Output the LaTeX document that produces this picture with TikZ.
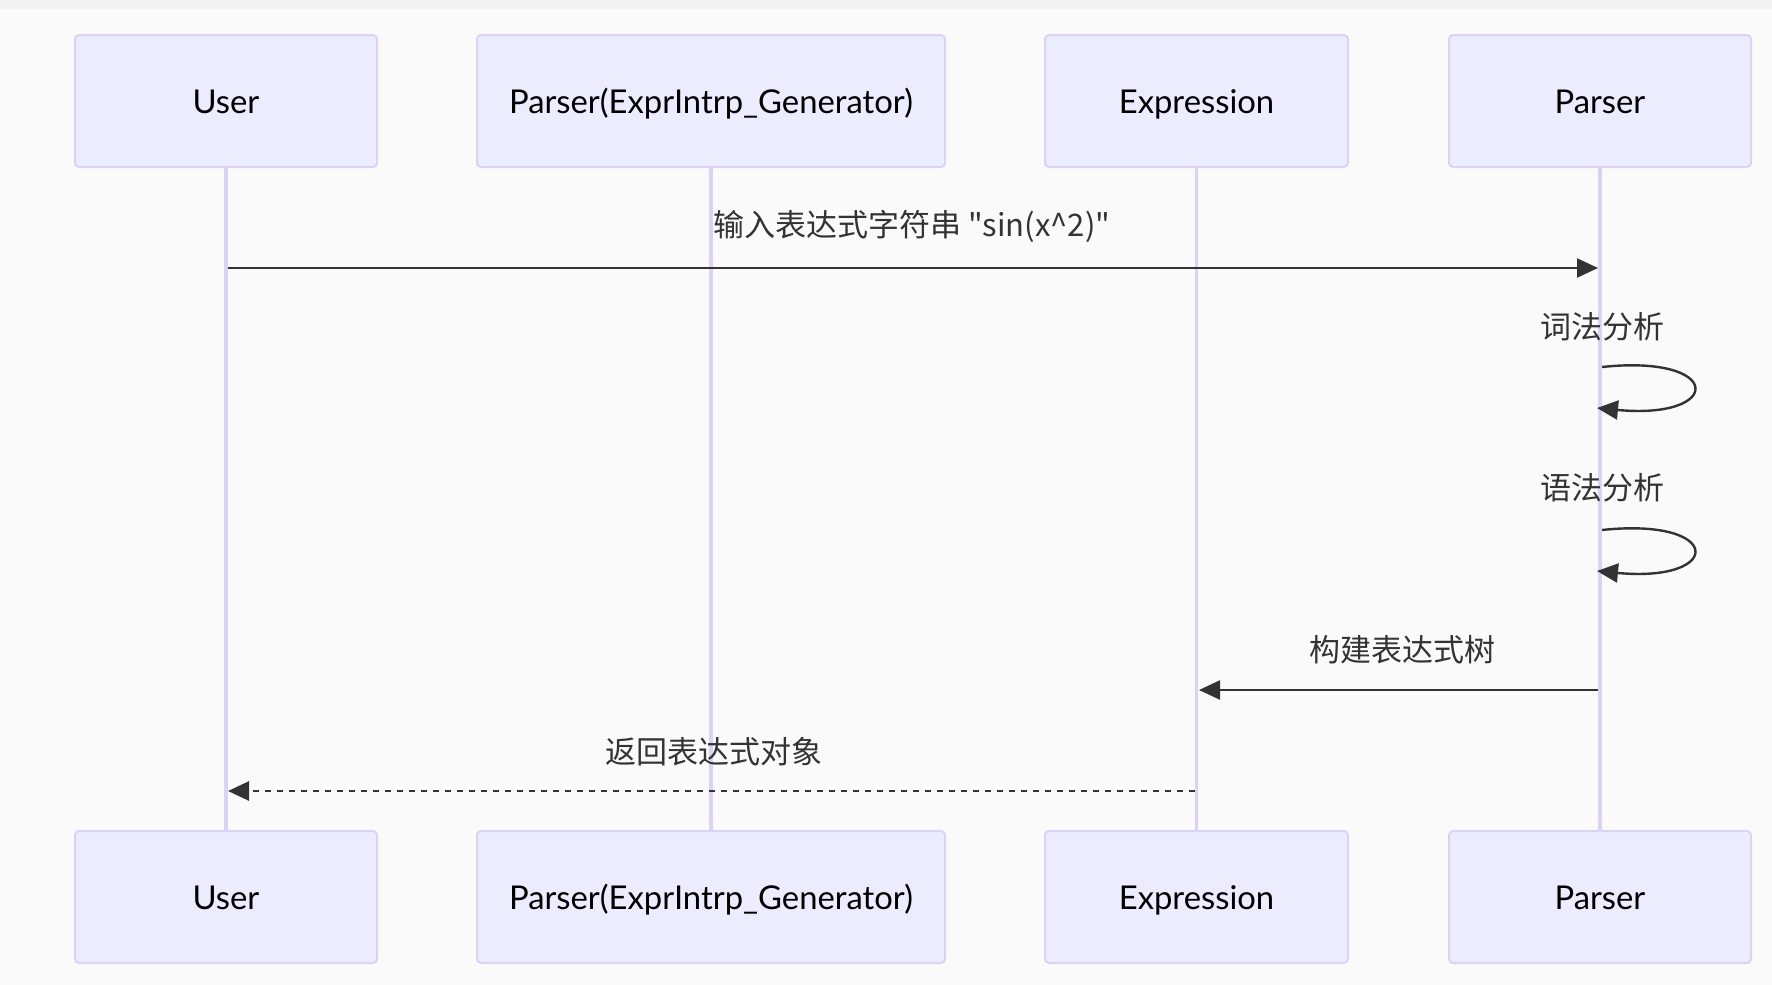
\documentclass[tikz,border=0pt]{standalone}
\usepackage{fontspec}
\setmainfont{Lato}
\newfontfamily\cjk{Noto Sans CJK SC}
\usetikzlibrary{arrows.meta}
\definecolor{bg}{HTML}{FAFAFA}
\definecolor{topbar}{HTML}{F2F2F2}
\definecolor{actfill}{HTML}{ECECFF}
\definecolor{actline}{HTML}{DCD2F6}
\definecolor{msg}{HTML}{333333}
\begin{document}
\begin{tikzpicture}[x=0.5pt,y=-0.5pt,
  actor/.style={draw=actline, line width=1pt, fill=actfill, rounded corners=2pt,
    minimum height=66pt, inner sep=0pt, text=black, text height=12pt, text depth=0pt,
    font=\fontsize{16.4}{18}\selectfont},
  life/.style={draw=actline, line width=1.8pt},
  msgarrow/.style={draw=msg, line width=1.2pt, -{Triangle[length=10.5pt,width=9.5pt]}},
  lbl/.style={text=msg, inner sep=0pt, font=\cjk\fontsize{15.5}{18}\selectfont}]
\useasboundingbox (0,0) rectangle (1772,985);
\fill[bg] (0,0) rectangle (1772,985);
\fill[topbar] (0,0) rectangle (1772,9);

% actors top
\node[actor, minimum width=151pt] (ut) at (226,101) {User};
\node[actor, minimum width=234pt] (pgt) at (711,101) {Parser(ExprIntrp\_Generator)};
\node[actor, minimum width=151.5pt] (et) at (1196.5,101) {Expression};
\node[actor, minimum width=151pt] (pt) at (1600,101) {Parser};
% actors bottom
\node[actor, minimum width=151pt] (ub) at (226,897) {User};
\node[actor, minimum width=234pt] (pgb) at (711,897) {Parser(ExprIntrp\_Generator)};
\node[actor, minimum width=151.5pt] (eb) at (1196.5,897) {Expression};
\node[actor, minimum width=151pt] (pb) at (1600,897) {Parser};

% lifelines
\draw[life] (ut.south) -- (ub.north);
\draw[life] (pgt.south) -- (pgb.north);
\draw[life] (et.south) -- (eb.north);
\draw[life] (pt.south) -- (pb.north);

% message 1
\coordinate (m1s) at (228,268);
\coordinate (m1e) at (1598,268);
\draw[msgarrow] (m1s) -- (m1e);
\node[lbl] (t1) at (912,226) {输入表达式字符串 "sin(x\textasciicircum 2)"};

% self loop 1
\coordinate (l1s) at (1602,367);
\coordinate (l1e) at (1597,408);
\draw[msgarrow] (l1s) .. controls (1724,354) and (1724,420) .. (l1e);
\node[lbl] (t2) at (1602,327) {词法分析};

% self loop 2
\coordinate (l2s) at (1602,530);
\coordinate (l2e) at (1597,571);
\draw[msgarrow] (l2s) .. controls (1724,517) and (1724,583) .. (l2e);
\node[lbl] (t3) at (1602,488) {语法分析};

% message 4
\coordinate (m4s) at (1598,690);
\coordinate (m4e) at (1199,690);
\draw[msgarrow] (m4s) -- (m4e);
\node[lbl] (t4) at (1402,650) {构建表达式树};

% message 5
\coordinate (m5s) at (1195,791);
\coordinate (m5e) at (228,791);
\draw[msgarrow, line width=1.4pt, dash pattern=on 3pt off 3pt] (m5s) -- (m5e);
\node[lbl] (t5) at (714,752) {返回表达式对象};
\end{tikzpicture}
\end{document}
